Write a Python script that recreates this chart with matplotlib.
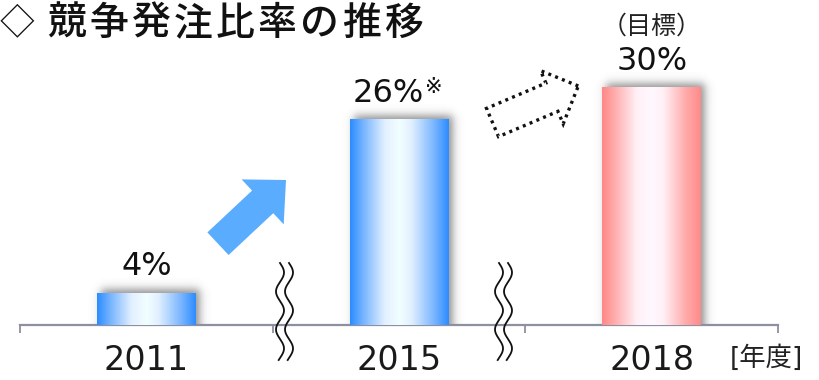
import numpy as np
import matplotlib.pyplot as plt
from matplotlib.colors import LinearSegmentedColormap
from matplotlib.patches import FancyArrow

plt.rcParams['font.family'] = ['DejaVu Sans', 'Noto Sans CJK JP']

# data
years = ['2011', '2015', '2018']
ratios = [4, 26, 30]
value_labels = ['4%', '26%', '30%']
title = '◇ 競争発注比率の推移'

W, H = 820, 380
fig = plt.figure(figsize=(W / 100, H / 100), dpi=100)

# main axes: baseline at y=325px, spans x 20..778px
ax_box = [20 / W, 55 / H, 758 / W, 325 / H]
ax = fig.add_axes(ax_box)
ymax = 41.1
ax.set_xlim(-0.5, 2.5)
ax.set_ylim(0, ymax)
px_x = ax_box[2] * W / 3.0      # pixels per category unit
px_y = ax_box[3] * H / ymax     # pixels per percent

blue = LinearSegmentedColormap.from_list('blue', [
    (0.0, '#2a8cff'), (0.12, '#6fb0ff'), (0.35, '#e2f0ff'), (0.5, '#f2ffff'),
    (0.62, '#e2f0ff'), (0.85, '#7ab6ff'), (1.0, '#2d8cff')])
pink = LinearSegmentedColormap.from_list('pink', [
    (0.0, '#ff8787'), (0.12, '#ffaaaa'), (0.35, '#fff0f6'), (0.5, '#fff8ff'),
    (0.62, '#fff0f6'), (0.85, '#ffaaaa'), (1.0, '#ff8a8a')])
cmaps = [blue, blue, pink]

x = np.arange(len(years))
bars = ax.bar(x, ratios, width=0.39, color='none', zorder=3)

grad = np.linspace(0, 1, 256)[None, :]


def sig(t):
    return 1.0 / (1.0 + np.exp(-t))


for bar, cmap in zip(bars, cmaps):
    x0, w, h = bar.get_x(), bar.get_width(), bar.get_height()
    # soft drop shadow up and to the right
    pad_x, pad_y = 16 / px_x, 16 / px_y
    xs = np.linspace(x0 - pad_x, x0 + w + pad_x, 220)
    ys = np.linspace(0, h + pad_y, 220)
    X, Y = np.meshgrid((xs - x0) * px_x, ys * px_y)
    wpx, hpx = w * px_x, h * px_y
    off, s = 4.0, 2.6
    a = 0.62 * sig((X - off) / s) * sig((wpx + off - X) / s) * sig((hpx + off - Y) / s)
    shadow = np.zeros(X.shape + (4,))
    shadow[..., :3] = 0.3
    shadow[..., 3] = a
    ax.imshow(shadow, extent=(xs[0], xs[-1], 0, ys[-1]), origin='lower',
              aspect='auto', zorder=2, interpolation='bilinear')
    ax.imshow(grad, cmap=cmap, extent=(x0, x0 + w, 0, h), aspect='auto',
              zorder=3, interpolation='bilinear')

ax.set_xlim(-0.5, 2.5)
ax.set_ylim(0, ymax)

# value labels
for xi, v, lab in zip(x, ratios, value_labels):
    if lab == '26%':
        ax.annotate(lab, (xi, v), xytext=(18, 19), textcoords='offset points',
                    ha='right', va='center', fontsize=23, color='#111111')
        ax.annotate('※', (xi, v), xytext=(18.5, 23), textcoords='offset points',
                    ha='left', va='center', fontsize=15, color='#111111')
    else:
        ax.annotate(lab, (xi, v), xytext=(0, 19), textcoords='offset points',
                    ha='center', va='center', fontsize=23, color='#111111')
ax.annotate('（目標）', (x[2], ratios[2]), xytext=(0, 44), textcoords='offset points',
            ha='center', va='center', fontsize=18, color='#222222')

# axis styling
for side in ['top', 'left', 'right']:
    ax.spines[side].set_visible(False)
ax.spines['bottom'].set_color('#8c90a0')
ax.spines['bottom'].set_linewidth(1.6)
ax.set_yticks([])
ax.set_xticks(x)
ax.set_xticklabels(years, fontsize=24, color='#1a1a1a')
ax.set_xticks([-0.5, 0.5, 1.5, 2.5], minor=True)
ax.tick_params(axis='x', which='major', length=0, pad=14)
ax.tick_params(axis='x', which='minor', length=6, width=1.3, color='#8c90a0')
ax.patch.set_visible(False)

# overlay in pixel coordinates for title, arrows and break marks
ov = fig.add_axes([0, 0, 1, 1])
ov.set_xlim(0, W)
ov.set_ylim(H, 0)
ov.axis('off')

ov.text(17, 24, title[0], ha='center', va='center', fontsize=25,
        family=['Noto Sans CJK JP'], color='#111111')
for i, ch in enumerate(title[2:]):
    ov.text(67 + 42 * i, 24, ch, ha='center', va='center', fontsize=28,
            family=['Noto Sans CJK JP'], fontweight='medium', color='#111111')

ov.text(766, 359, '[年度]', ha='center', va='center', fontsize=19,
        color='#222222')

ov.add_patch(FancyArrow(218, 243.7, 68, -63.7, width=31, head_width=61.6,
                        head_length=32, length_includes_head=True,
                        color='#5aacff', lw=0))
ov.add_patch(FancyArrow(492.5, 122.5, 85.8, -36.5, width=30.7, head_width=57.8,
                        head_length=28.7, length_includes_head=True,
                        fc='white', ec='#111111', lw=2.4,
                        linestyle=(0, (0.9, 1.3))))

# wavy break marks
yy = np.linspace(263, 360, 200)
for xc in [280, 289, 499, 508]:
    ov.plot(xc + 4 * np.sin(2 * np.pi * (yy - 263) / 38), yy,
            color='#111111', lw=1.3)

fig.savefig('out.png', dpi=100)
